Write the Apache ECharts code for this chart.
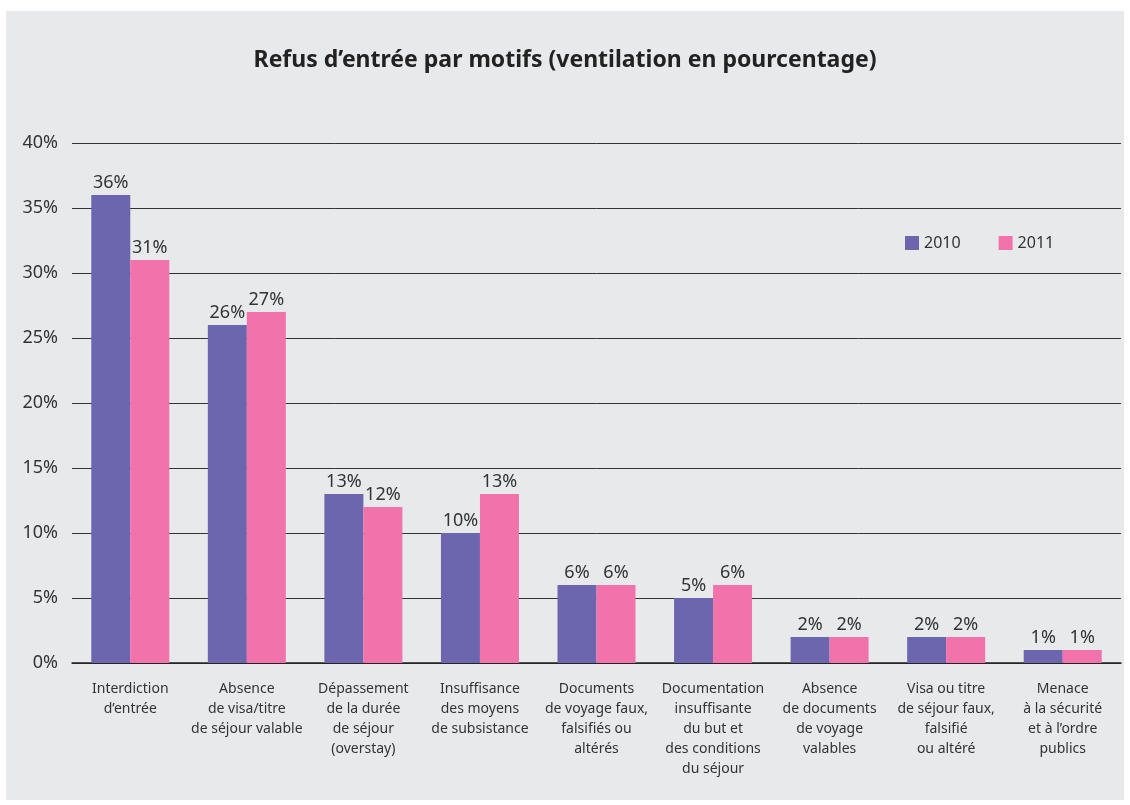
<!DOCTYPE html>
<html>
<head>
<meta charset="utf-8">
<script src="https://cdn.jsdelivr.net/npm/echarts@6/dist/echarts.min.js"></script>
<style>
  html, body { margin: 0; padding: 0; background: #fff; }
  #main { width: 1130px; height: 805px; }
</style>
</head>
<body>
<div id="main"></div>
<script>
// catégories (axe des x)
var categories = [
    'Interdiction\nd\u2019entrée',
    'Absence\nde visa/titre\nde séjour valable',
    'Dépassement\nde la durée\nde séjour\n(overstay)',
    'Insuffisance\ndes moyens\nde subsistance',
    'Documents\nde voyage faux,\nfalsifiés ou\naltérés',
    'Documentation\ninsuffisante\ndu but et\ndes conditions\ndu séjour',
    'Absence\nde documents\nde voyage\nvalables',
    'Visa ou titre\nde séjour faux,\nfalsifié\nou altéré',
    'Menace\nà la sécurité\net à l\u2019ordre\npublics'
];
var values2010 = [36, 26, 13, 10, 6, 5, 2, 2, 1];
var values2011 = [31, 27, 12, 13, 6, 6, 2, 2, 1];
var seriesNames = ['2010', '2011'];

var myChart = echarts.init(document.getElementById('main'));

var fontFam = 'Noto Sans';
var labelStyle = {
    show: true,
    position: 'top',
    distance: 3,
    formatter: '{c}%',
    color: '#333',
    fontSize: 18,
    fontFamily: fontFam
};

myChart.setOption({
    backgroundColor: '#ffffff',
    animation: false,
    graphic: [{
        type: 'rect',
        z: -10,
        shape: { x: 6, y: 11, width: 1118, height: 789 },
        style: { fill: '#e8e9eb' }
    }],
    title: {
        text: 'Refus d\u2019entrée par motifs (ventilation en pourcentage)',
        left: 'center',
        top: 44,
        textStyle: { fontSize: 23, fontWeight: 'bold', color: '#222', fontFamily: fontFam }
    },
    legend: {
        data: seriesNames,
        left: 900,
        top: 230,
        itemWidth: 14,
        itemHeight: 14,
        itemGap: 38,
        icon: 'rect',
        textStyle: { fontSize: 16, color: '#333', fontFamily: fontFam }
    },
    grid: { left: 72, right: 9, top: 143, bottom: 142 },
    xAxis: {
        type: 'category',
        data: categories,
        axisTick: { show: false },
        axisLine: { lineStyle: { color: '#222', width: 1.5 } },
        axisLabel: {
            interval: 0,
            margin: 16,
            color: '#333',
            fontSize: 14,
            lineHeight: 20,
            fontFamily: fontFam
        }
    },
    yAxis: {
        type: 'value',
        min: 0,
        max: 40,
        interval: 5,
        axisLabel: {
            formatter: '{value}%',
            color: '#333',
            fontSize: 18,
            margin: 14,
            fontFamily: fontFam
        },
        splitLine: { lineStyle: { color: '#333', width: 1 } }
    },
    series: [{
        name: seriesNames[0],
        type: 'bar',
        data: values2010,
        barWidth: 39,
        barGap: '0%',
        itemStyle: { color: '#6c66ae' },
        label: labelStyle
    }, {
        name: seriesNames[1],
        type: 'bar',
        data: values2011,
        barWidth: 39,
        barGap: '0%',
        itemStyle: { color: '#f273ab' },
        label: labelStyle
    }]
});
</script>
</body>
</html>
